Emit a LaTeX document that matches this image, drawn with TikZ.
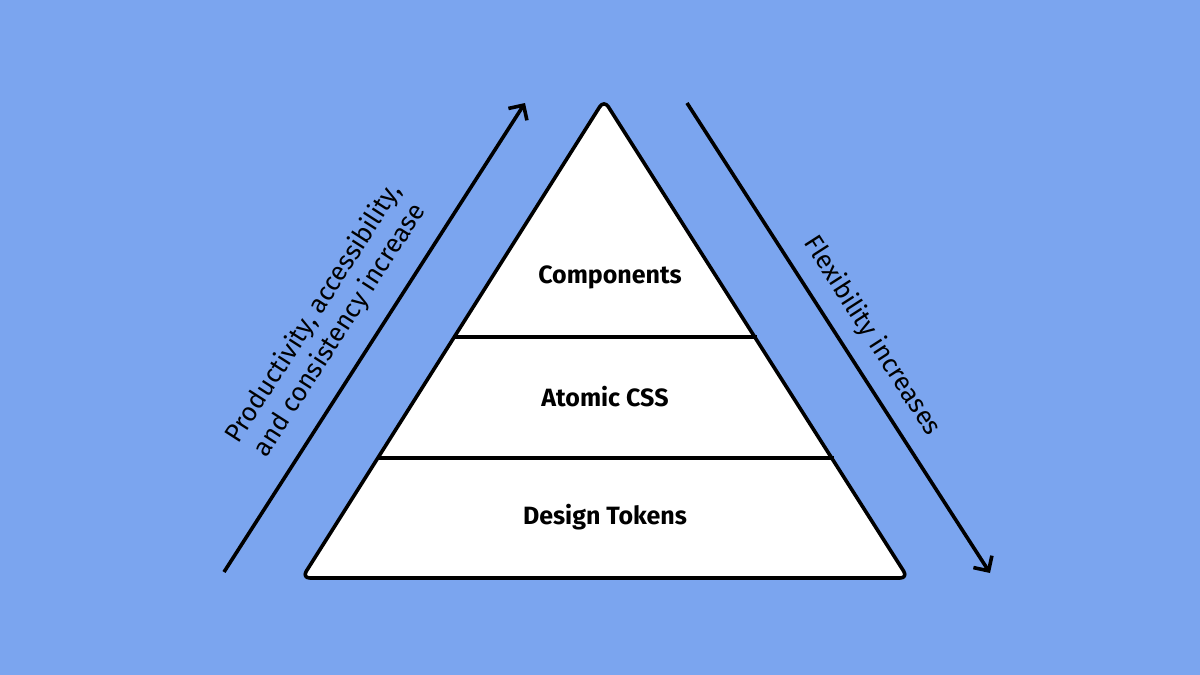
\documentclass[tikz,border=0pt]{standalone}
\usepackage{fontspec}
\setmainfont{Fira Sans}
\usetikzlibrary{arrows.meta, positioning}
\definecolor{bgblue}{HTML}{7BA5EF}

\begin{document}
\begin{tikzpicture}[
    x=1pt, y=-1pt,
    layer/.style={font=\fontsize{25}{30}\selectfont\bfseries, anchor=center},
    axis/.style={line width=3.6pt, -{Straight Barb[length=11pt, width=22pt, line width=3.6pt]}},
    axislabel/.style={font=\fontsize{26}{31}\selectfont, align=center}
]

% Background
\fill[bgblue] (0,0) rectangle (1200,675);
\useasboundingbox (0,0) rectangle (1200,675);

% Pyramid
\coordinate (apex) at (604,100);
\coordinate (bl) at (302,578);
\coordinate (br) at (908,578);
\draw[line width=3.6pt, fill=white, rounded corners=8pt, line join=round] (apex) -- (br) -- (bl) -- cycle;

% Layer separators
\coordinate (s1l) at (453,337);
\coordinate (s1r) at (757,337);
\coordinate (s2l) at (377,458);
\coordinate (s2r) at (834,458);
\draw[line width=3.6pt] (s1l) -- (s1r);
\draw[line width=3.6pt] (s2l) -- (s2r);

% Layers
\node[layer] (comp) at (610,277) {Components};
\node[layer] (atomic) at (605,397) {Atomic CSS};
\node[layer] (tokens) at (605,517) {Design Tokens};

% Axes
\coordinate (lstart) at (224,572);
\coordinate (lend) at (525,103);
\coordinate (rstart) at (687,103);
\coordinate (rend) at (990,573);
\draw[axis] (lstart) -- (lend);
\draw[axis] (rstart) -- (rend);

\node[axislabel, rotate=57.3] (prod) at (327,322) {Productivity, accessibility,\\and consistency increase};
\node[axislabel, rotate=-57.3] (flex) at (872,336) {Flexibility increases};

\end{tikzpicture}
\end{document}
